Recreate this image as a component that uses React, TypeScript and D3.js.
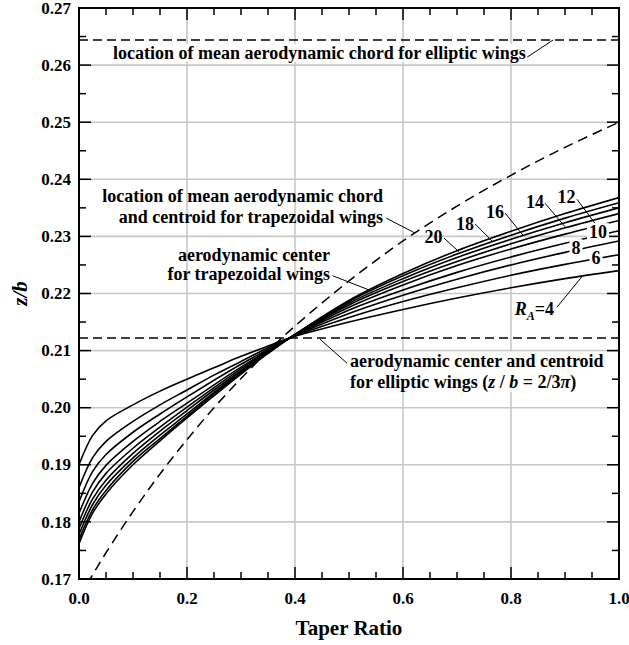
import React, { useRef, useEffect } from "react";
import * as d3 from "d3";

// taper ratio stations where the a.c. curves were read
const taper = [0, 0.025, 0.05, 0.1, 0.15, 0.2, 0.25, 0.3, 0.35, 0.39, 0.5, 0.6, 0.7, 0.8, 0.9, 1.0];

const aspectRatios = [4, 6, 8, 10, 12, 14, 16, 18, 20];

// spanwise location of aerodynamic center, z/b, one array per aspect ratio
const zbRA4 = [0.19, 0.1951, 0.1977, 0.2005, 0.2029, 0.205, 0.207, 0.209, 0.2108, 0.2122, 0.215, 0.2172, 0.2192, 0.221, 0.2226, 0.224];
const zbRA6 = [0.186, 0.1912, 0.1941, 0.1976, 0.2005, 0.2031, 0.2057, 0.2081, 0.2105, 0.2122, 0.2158, 0.2186, 0.221, 0.2232, 0.2251, 0.2268];
const zbRA8 = [0.1835, 0.1888, 0.1918, 0.1957, 0.1989, 0.2019, 0.2048, 0.2076, 0.2102, 0.2122, 0.2165, 0.2197, 0.2225, 0.225, 0.2272, 0.2292];
const zbRA10 = [0.1815, 0.1867, 0.1899, 0.1941, 0.1976, 0.2008, 0.204, 0.2071, 0.21, 0.2122, 0.2171, 0.2206, 0.2237, 0.2264, 0.2288, 0.231];
const zbRA12 = [0.18, 0.1852, 0.1885, 0.1929, 0.1966, 0.2001, 0.2035, 0.2068, 0.2099, 0.2122, 0.2176, 0.2215, 0.2249, 0.2278, 0.2304, 0.2328];
const zbRA14 = [0.1788, 0.184, 0.1873, 0.192, 0.1959, 0.1995, 0.2031, 0.2065, 0.2098, 0.2122, 0.218, 0.2221, 0.2256, 0.2287, 0.2315, 0.234];
const zbRA16 = [0.1778, 0.183, 0.1864, 0.1912, 0.1952, 0.1989, 0.2027, 0.2063, 0.2097, 0.2122, 0.2183, 0.2226, 0.2263, 0.2295, 0.2324, 0.235];
const zbRA18 = [0.1769, 0.1821, 0.1855, 0.1906, 0.1946, 0.1985, 0.2024, 0.2061, 0.2096, 0.2122, 0.2186, 0.2231, 0.2269, 0.2302, 0.2332, 0.2359];
const zbRA20 = [0.1762, 0.1815, 0.1849, 0.19, 0.1942, 0.1982, 0.2021, 0.2059, 0.2095, 0.2122, 0.2188, 0.2235, 0.2275, 0.2309, 0.234, 0.2368];
const acCurves = [zbRA4, zbRA6, zbRA8, zbRA10, zbRA12, zbRA14, zbRA16, zbRA18, zbRA20];

// mean aerodynamic chord / centroid for trapezoidal wings (dashed curve)
const taperMac = [0, 0.025, 0.05, 0.1, 0.15, 0.2, 0.25, 0.3, 0.35, 0.4, 0.5, 0.6, 0.7, 0.8, 0.9, 1.0];
const zbMacTrap = [0.1667, 0.1707, 0.1746, 0.1818, 0.1884, 0.1944, 0.2, 0.2051, 0.2099, 0.2143, 0.2222, 0.2292, 0.2353, 0.2407, 0.2456, 0.25];

// elliptic wing references (horizontal dashed lines)
const zbMacElliptic = 0.2644;
const zbAcElliptic = 0.2122;

const xTicks = [0, 0.2, 0.4, 0.6, 0.8, 1.0];
const yTicks = [0.17, 0.18, 0.19, 0.2, 0.21, 0.22, 0.23, 0.24, 0.25, 0.26, 0.27];

const W = 629;
const H = 645;
const FONT = "'Liberation Serif', 'Times New Roman', serif";

const App: React.FC = () => {
  const ref = useRef<SVGSVGElement | null>(null);

  useEffect(() => {
    const svg = d3.select(ref.current);
    svg.selectAll("*").remove();

    const margin = { top: 8, right: 10, bottom: 66, left: 79 };
    const width = W - margin.left - margin.right;
    const height = H - margin.top - margin.bottom;

    const x = d3.scaleLinear().domain([0, 1]).range([margin.left, margin.left + width]);
    const y = d3.scaleLinear().domain([0.17, 0.27]).range([margin.top + height, margin.top]);

    svg.append("rect").attr("width", W).attr("height", H).attr("fill", "#fff");

    svg
      .append("defs")
      .append("clipPath")
      .attr("id", "plot-clip")
      .append("rect")
      .attr("x", margin.left)
      .attr("y", margin.top)
      .attr("width", width)
      .attr("height", height);

    // grid
    const grid = svg.append("g").attr("stroke", "#c8c8c8").attr("stroke-width", 1.6);
    xTicks.slice(1, -1).forEach((t) => {
      grid.append("line").attr("x1", x(t)).attr("x2", x(t)).attr("y1", y(0.17)).attr("y2", y(0.27));
    });
    yTicks.slice(1, -1).forEach((t) => {
      grid.append("line").attr("x1", x(0)).attr("x2", x(1)).attr("y1", y(t)).attr("y2", y(t));
    });

    const plot = svg.append("g").attr("clip-path", "url(#plot-clip)");

    // elliptic wing reference lines
    [zbMacElliptic, zbAcElliptic].forEach((v) => {
      plot
        .append("line")
        .attr("x1", x(0))
        .attr("x2", x(1))
        .attr("y1", y(v))
        .attr("y2", y(v))
        .attr("stroke", "#000")
        .attr("stroke-width", 1.5)
        .attr("stroke-dasharray", "9,5");
    });

    // trapezoidal MAC curve
    const macLine = d3
      .line<number>()
      .x((_, i) => x(taperMac[i]))
      .y((d) => y(d))
      .curve(d3.curveCatmullRom.alpha(0.5));
    plot
      .append("path")
      .datum(zbMacTrap)
      .attr("fill", "none")
      .attr("stroke", "#000")
      .attr("stroke-width", 1.5)
      .attr("stroke-dasharray", "10,6")
      .attr("d", macLine);

    // aerodynamic center curves
    const acLine = d3
      .line<number>()
      .x((_, i) => x(taper[i]))
      .y((d) => y(d))
      .curve(d3.curveCatmullRom.alpha(0.5));
    acCurves.forEach((c) => {
      plot
        .append("path")
        .datum(c)
        .attr("fill", "none")
        .attr("stroke", "#000")
        .attr("stroke-width", 1.6)
        .attr("d", acLine);
    });

    // ticks, inward on all four sides
    const ticks = svg.append("g").attr("stroke", "#000").attr("stroke-width", 1.5);
    d3.range(0, 1.0001, 0.05).forEach((t, i) => {
      const len = i % 4 === 0 ? 12 : 7;
      ticks.append("line").attr("x1", x(t)).attr("x2", x(t)).attr("y1", y(0.17)).attr("y2", y(0.17) - len);
      ticks.append("line").attr("x1", x(t)).attr("x2", x(t)).attr("y1", y(0.27)).attr("y2", y(0.27) + len);
    });
    d3.range(0.17, 0.27001, 0.005).forEach((t, i) => {
      const len = i % 2 === 0 ? 12 : 7;
      ticks.append("line").attr("x1", x(0)).attr("x2", x(0) + len).attr("y1", y(t)).attr("y2", y(t));
      ticks.append("line").attr("x1", x(1)).attr("x2", x(1) - len).attr("y1", y(t)).attr("y2", y(t));
    });

    // frame
    svg
      .append("rect")
      .attr("x", margin.left)
      .attr("y", margin.top)
      .attr("width", width)
      .attr("height", height)
      .attr("fill", "none")
      .attr("stroke", "#000")
      .attr("stroke-width", 2);

    // tick labels
    const labels = svg.append("g").attr("font-family", FONT).attr("font-weight", "bold").attr("font-size", 17);
    xTicks.forEach((t) => {
      labels.append("text").attr("x", x(t)).attr("y", y(0.17) + 25).attr("text-anchor", "middle").text(t.toFixed(1));
    });
    yTicks.forEach((t) => {
      labels.append("text").attr("x", x(0) - 8).attr("y", y(t)).attr("dy", "0.33em").attr("text-anchor", "end").text(t.toFixed(2));
    });

    // axis titles
    svg
      .append("text")
      .attr("x", x(0.5))
      .attr("y", H - 10)
      .attr("text-anchor", "middle")
      .attr("font-family", FONT)
      .attr("font-weight", "bold")
      .attr("font-size", 21)
      .text("Taper Ratio");
    svg
      .append("text")
      .attr("transform", `translate(${27},${y(0.22)}) rotate(-90)`)
      .attr("text-anchor", "middle")
      .attr("font-family", FONT)
      .attr("font-weight", "bold")
      .attr("font-style", "italic")
      .attr("font-size", 21)
      .text("z/b");

    // annotations
    const ann = svg.append("g").attr("font-family", FONT).attr("font-weight", "bold").attr("font-size", 18);
    const leader = (a: [number, number], b: [number, number]) =>
      ann
        .append("line")
        .attr("x1", x(a[0]))
        .attr("y1", y(a[1]))
        .attr("x2", x(b[0]))
        .attr("y2", y(b[1]))
        .attr("stroke", "#000")
        .attr("stroke-width", 1);
    const knockout = (t: d3.Selection<SVGTextElement, unknown, null, undefined>, pad: number) => {
      const bb = (t.node() as SVGTextElement).getBBox();
      ann
        .insert("rect", () => t.node() as SVGTextElement)
        .attr("x", bb.x - pad)
        .attr("y", bb.y + 1)
        .attr("width", bb.width + 2 * pad)
        .attr("height", bb.height - 2)
        .attr("fill", "#fff");
    };

    const topLabel = ann
      .append("text")
      .attr("x", x(0.063))
      .attr("y", y(0.2611))
      .text("location of mean aerodynamic chord for elliptic wings");
    knockout(topLabel, 3);
    leader([0.83, 0.2614], [0.878, zbMacElliptic]);

    const trapMac = ann.append("text").attr("text-anchor", "end");
    trapMac.append("tspan").attr("x", x(0.563)).attr("y", y(0.236)).text("location of mean aerodynamic chord");
    trapMac.append("tspan").attr("x", x(0.563)).attr("y", y(0.2324)).text("and centroid for trapezoidal wings");
    leader([0.569, 0.2332], [0.622, 0.2306]);

    const trapAc = ann.append("text").attr("text-anchor", "end");
    trapAc.append("tspan").attr("x", x(0.465)).attr("y", y(0.2257)).text("aerodynamic center");
    trapAc.append("tspan").attr("x", x(0.465)).attr("y", y(0.2224)).text("for trapezoidal wings");
    leader([0.47, 0.2231], [0.543, 0.2204]);

    const ellAc = ann.append("text");
    ellAc.append("tspan").attr("x", x(0.502)).attr("y", y(0.2072)).text("aerodynamic center and centroid");
    const l2 = ellAc.append("tspan").attr("x", x(0.502)).attr("y", y(0.2035));
    l2.append("tspan").text("for elliptic wings (");
    l2.append("tspan").attr("font-style", "italic").text("z");
    l2.append("tspan").text(" / ");
    l2.append("tspan").attr("font-style", "italic").text("b");
    l2.append("tspan").text(" = 2/3");
    l2.append("tspan").attr("font-style", "italic").text("\u03c0");
    l2.append("tspan").text(")");
    knockout(ellAc, 2);
    leader([0.4463, 0.212], [0.4963, 0.2078]);

    // R_A = 4
    const ra = ann.append("text").attr("x", x(0.807)).attr("y", y(0.2162));
    ra.append("tspan").attr("font-style", "italic").text("R");
    ra.append("tspan").attr("font-style", "italic").attr("font-size", 12).attr("dy", 5).text("A");
    ra.append("tspan").attr("dy", -5).text("=4");
    leader([0.885, 0.2176], [0.931, 0.2229]);

    // aspect ratio labels with leaders
    const raLeaders: [number, [number, number], [number, number], [number, number]][] = [
      [20, [0.6565, 0.2288], [0.676, 0.2297], [0.7037, 0.2273]],
      [18, [0.7148, 0.2311], [0.7333, 0.2322], [0.7648, 0.2292]],
      [16, [0.7704, 0.2332], [0.7889, 0.2341], [0.8222, 0.2302]],
      [14, [0.8444, 0.235], [0.863, 0.2358], [0.9, 0.2317]],
      [12, [0.9028, 0.2358], [0.9222, 0.2365], [0.9593, 0.2318]],
    ];
    raLeaders.forEach(([r, p, a, b]) => {
      ann.append("text").attr("x", x(p[0])).attr("y", y(p[1])).attr("text-anchor", "middle").text(String(r));
      leader(a, b);
    });

    // labels sitting on their curves
    const onCurve: [number, [number, number]][] = [
      [10, [0.9611, 0.2297]],
      [8, [0.9204, 0.2269]],
      [6, [0.9574, 0.2252]],
    ];
    onCurve.forEach(([r, p]) => {
      const t = ann.append("text").attr("x", x(p[0])).attr("y", y(p[1])).attr("text-anchor", "middle").text(String(r));
      knockout(t, 2);
    });
  }, []);

  return (
    <svg
      ref={ref}
      width={W}
      height={H}
      style={{ position: "absolute", left: 0, top: 0, display: "block" }}
    />
  );
};

export default App;
